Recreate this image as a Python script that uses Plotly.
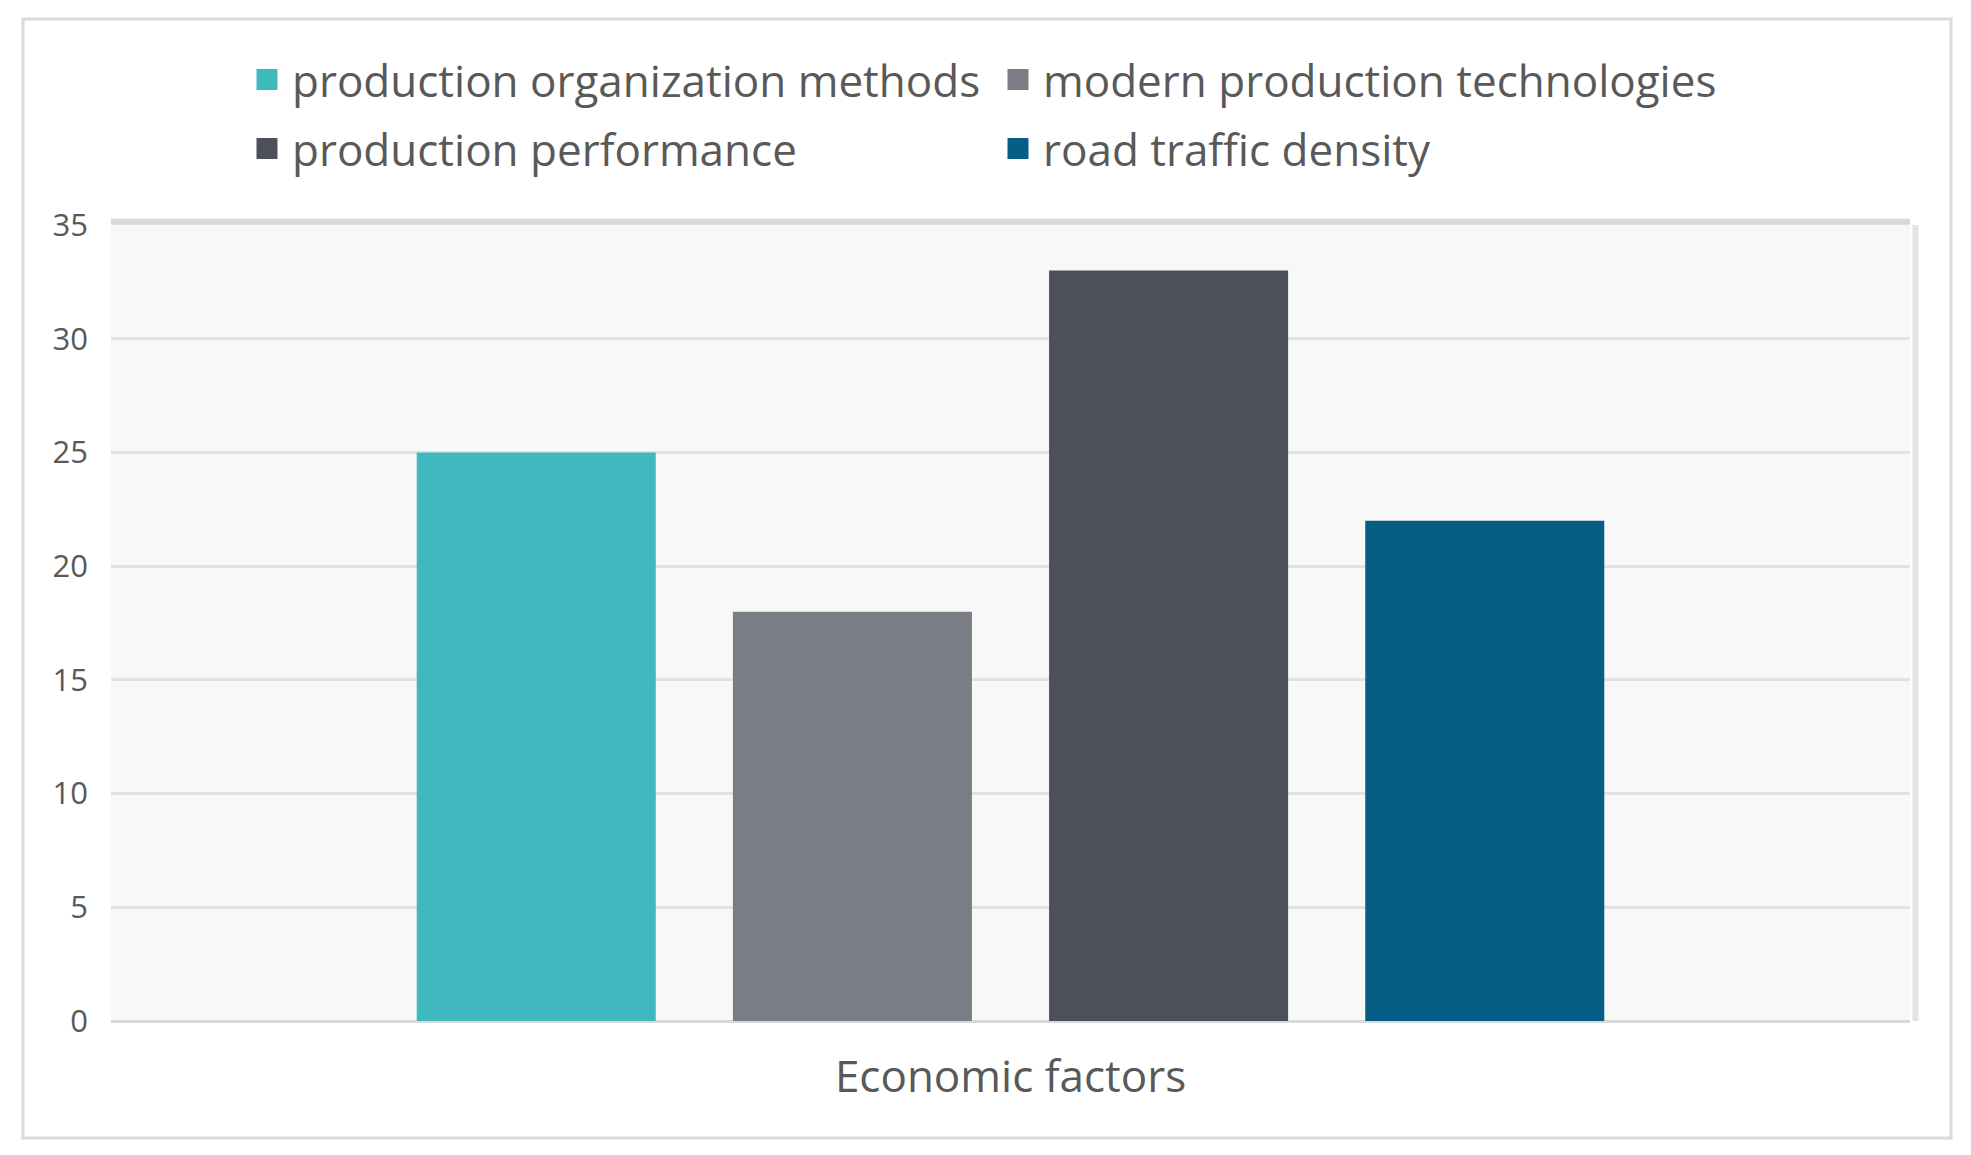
import plotly.graph_objects as go

category = ["Economic factors"]
series_names = ["production organization methods", "modern production technologies",
                "production performance", "road traffic density"]
series_values = [25, 18, 33, 22]
series_colors = ["#3fb8bf", "#7a7d86", "#4c5058", "#045e86"]
legend_rows = ["legend", "legend", "legend2", "legend2"]
y_ticks = [0, 5, 10, 15, 20, 25, 30, 35]

fig = go.Figure()
for name, val, col in zip(series_names, series_values, series_colors):
    fig.add_trace(go.Bar(x=category, y=[val], name=name, showlegend=False,
                         marker=dict(color=col, line=dict(width=0))))
# legend entries with larger square swatches
for name, col, lg in zip(series_names, series_colors, legend_rows):
    fig.add_trace(go.Scatter(x=[None], y=[None], mode="markers", name=name, legend=lg,
                             marker=dict(symbol="square", size=16, color=col,
                                         line=dict(color=col, width=5))))

# page has an 8px body margin; figure coordinates are page minus 8
W, H = 1955, 1139
L, R, T, B = 103, 53, 217, 126
pw, ph = W - L - R, H - T - B

def px(x):
    return (x - L) / pw

def py(y):
    return (H - B - y) / ph

leg_common = dict(
    orientation="h", xanchor="left", yanchor="middle",
    entrywidth=696, entrywidthmode="pixels",
    font=dict(size=44, color="#595959", family="Open Sans"),
    itemwidth=40, itemsizing="trace",
    bgcolor="rgba(0,0,0,0)",
)

fig.update_layout(
    width=W, height=H,
    margin=dict(l=L, r=R, t=T, b=B),
    paper_bgcolor="white",
    plot_bgcolor="#f8f8f8",
    barmode="group",
    bargap=0.297,
    bargroupgap=0.244,
    font=dict(family="Open Sans", color="#595959"),
    legend=dict(x=px(234), y=py(72), **leg_common),
    legend2=dict(x=px(234), y=py(141), **leg_common),
    xaxis=dict(
        showgrid=False, showline=False,
        tickfont=dict(size=44, color="#595959"),
        ticks="", ticklabelstandoff=26,
    ),
    yaxis=dict(
        range=[0, 35], tickvals=y_ticks,
        showgrid=True, gridcolor="#e2e2e2", gridwidth=3,
        zeroline=True, zerolinecolor="#d9d9d9", zerolinewidth=3,
        tickfont=dict(size=31, color="#595959"),
        ticks="", ticklabelstandoff=22,
    ),
    shapes=[
        dict(type="rect", xref="paper", yref="paper",
             x0=px(15), x1=px(1943), y0=py(1130), y1=py(11),
             line=dict(color="#dadada", width=3), fillcolor="rgba(0,0,0,0)", layer="below"),
        dict(type="line", xref="paper", yref="paper",
             x0=0, x1=1, y0=1.004, y1=1.004,
             line=dict(color="#d8d8d8", width=6)),
        dict(type="line", xref="paper", yref="paper",
             x0=1.003, x1=1.003, y0=0, y1=1,
             line=dict(color="#e4e4e4", width=6)),
    ],
)

fig.write_html("out.html")
